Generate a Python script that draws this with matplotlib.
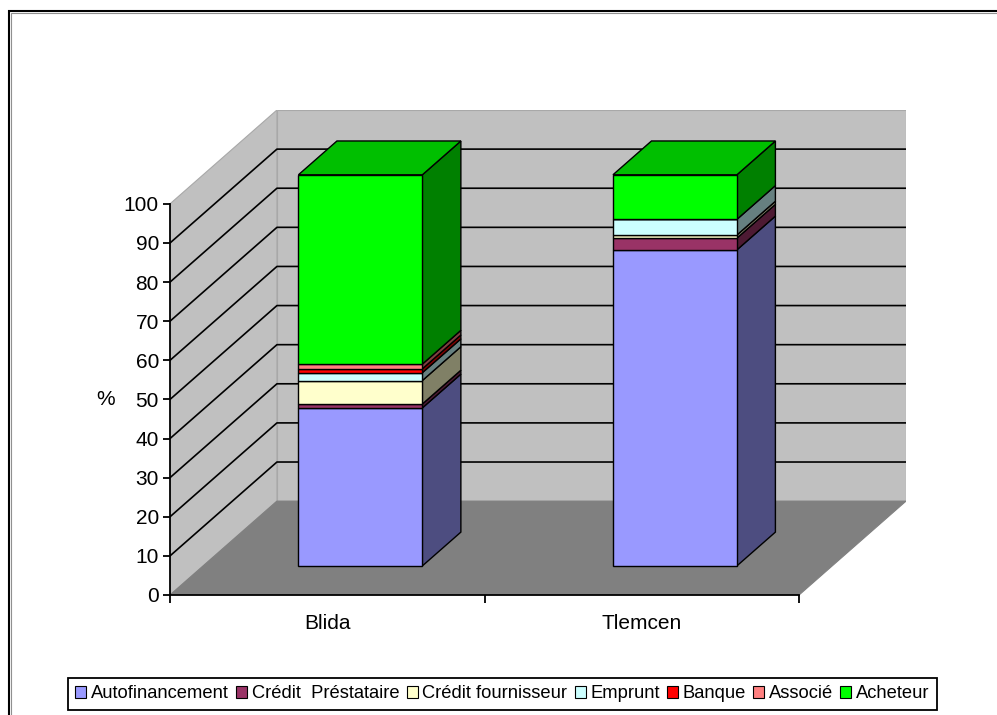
import matplotlib
matplotlib.use('Agg')
import matplotlib.pyplot as plt
from matplotlib.colors import to_rgb
from matplotlib.patches import Polygon, Patch, Rectangle

# narrow arial-ish look of the old excel export
plt.rcParams['font.family'] = ['Liberation Sans Narrow', 'Liberation Sans', 'DejaVu Sans']

# data (% per city, stacked)
cities = ['Blida', 'Tlemcen']
series = ['Autofinancement', 'Crédit  Préstataire', 'Crédit fournisseur', 'Emprunt',
          'Banque', 'Associé', 'Acheteur']
autofinancement = [40.4, 80.8]
credit_prestataire = [1.0, 3.0]
credit_fournisseur = [6.0, 0.8]
emprunt = [2.0, 4.0]
banque = [1.0, 0.0]
associe = [1.2, 0.0]
acheteur = [48.4, 11.4]
yticks = list(range(0, 101, 10))

colors = ['#9999ff', '#993366', '#ffffcc', '#ccffff', '#ff0000', '#ff8080', '#00ff00']
stack = [autofinancement, credit_prestataire, credit_fournisseur, emprunt, banque, associe, acheteur]

# fake 3d: depth offset (full depth) in data units, bars sit between d0 and d1
DX, DY = 0.340, 24.0
d0, d1 = 0.31, 0.67
bar_w = 0.394


def proj(x, y, d):
    return (x + d * DX, y + d * DY)


def shade(c, k):
    return tuple(v * k for v in to_rgb(c))


fig = plt.figure(figsize=(9.97, 7.15), dpi=100)
ax = fig.add_axes([170 / 997, 120 / 715, 736 / 997, 485 / 715])
ax.set_xlim(0, 2 + DX)
ax.set_ylim(0, 100 + DY)
ax.patch.set_visible(False)
for s in ax.spines.values():
    s.set_visible(False)

# walls + floor
ax.add_patch(Polygon([proj(0, 0, 0), proj(0, 100, 0), proj(0, 100, 1), proj(0, 0, 1)],
                     fc='#c0c0c0', ec='#a8a8a8', lw=0.8, zorder=1))
ax.add_patch(Polygon([proj(0, 0, 1), proj(0, 100, 1), proj(2, 100, 1), proj(2, 0, 1)],
                     fc='#c0c0c0', ec='#a8a8a8', lw=0.8, zorder=1))
ax.add_patch(Polygon([proj(0, 0, 0), proj(2, 0, 0), proj(2, 0, 1), proj(0, 0, 1)],
                     fc='#808080', ec='#808080', lw=0.8, zorder=1))

# gridlines, left wall then back wall
for v in yticks[1:-1]:
    pts = [proj(0, v, 0), proj(0, v, 1), proj(2, v, 1)]
    ax.plot([p[0] for p in pts], [p[1] for p in pts], color='black', lw=1.2, zorder=2)

# bars: front faces via ax.bar, side / top faces as polygons
centers = [i + 0.5 for i in range(len(cities))]
base = [0.0] * len(cities)
for vals, c in zip(stack, colors):
    ax.bar([x + d0 * DX for x in centers], vals, width=bar_w,
           bottom=[b + d0 * DY for b in base], color=c, edgecolor='black', lw=1.0, zorder=4)
    for i, x in enumerate(centers):
        if vals[i] <= 0:
            continue
        xr = x + bar_w / 2
        y0, y1 = base[i], base[i] + vals[i]
        side = [proj(xr, y0, d0), proj(xr, y0, d1), proj(xr, y1, d1), proj(xr, y1, d0)]
        ax.add_patch(Polygon(side, fc=shade(c, 0.5), ec='black', lw=1.0, zorder=3))
    base = [b + v for b, v in zip(base, vals)]

# top faces take the colour of the last segment
for i, x in enumerate(centers):
    xl, xr = x - bar_w / 2, x + bar_w / 2
    top = [proj(xl, base[i], d0), proj(xr, base[i], d0), proj(xr, base[i], d1), proj(xl, base[i], d1)]
    ax.add_patch(Polygon(top, fc=shade(colors[-1], 0.75), ec='black', lw=1.0, zorder=3))

# front axes lines
ax.plot([0, 0], [0, 100], color='black', lw=1.3, zorder=5, clip_on=False)
ax.plot([0, 2], [0, 0], color='black', lw=1.3, zorder=5, clip_on=False)

ax.set_yticks(yticks)
ax.tick_params(axis='y', direction='out', length=5, width=1.3, pad=3, labelsize=15)
ax.set_xticks([0, 1, 2], minor=True)
ax.set_xticks(centers, cities)
ax.tick_params(axis='x', which='major', length=0, pad=14, labelsize=15)
ax.tick_params(axis='x', which='minor', direction='out', length=6, width=1.3)

ax.set_ylabel('%', rotation=0, fontsize=15, va='center', ha='center')
ax.yaxis.set_label_coords(-0.088, 50 / (100 + DY))

handles = [Patch(fc=c, ec='black', lw=0.8) for c in colors]
leg = fig.legend(handles, series, loc='upper left', bbox_to_anchor=(68 / 997, 1 - 678 / 715),
                 ncol=7, frameon=True, fancybox=False, edgecolor='black', framealpha=1,
                 handlelength=0.6, handleheight=0.6, handletextpad=0.25, columnspacing=0.4,
                 borderpad=0.4, borderaxespad=0, fontsize=13.2)
leg.get_frame().set_linewidth(1.3)

# outer chart frame (right/bottom run off the image)
fig.patches.append(Rectangle((8.5 / 997, -0.1), 1.2, 1 - 10.5 / 715 + 0.1, transform=fig.transFigure,
                             fill=False, ec='black', lw=1.5))
fig.patches.append(Rectangle((10.5 / 997, -0.1), 1.2, 1 - 12.5 / 715 + 0.1, transform=fig.transFigure,
                             fill=False, ec='#909090', lw=0.8))

fig.savefig('out.png', dpi=100)
